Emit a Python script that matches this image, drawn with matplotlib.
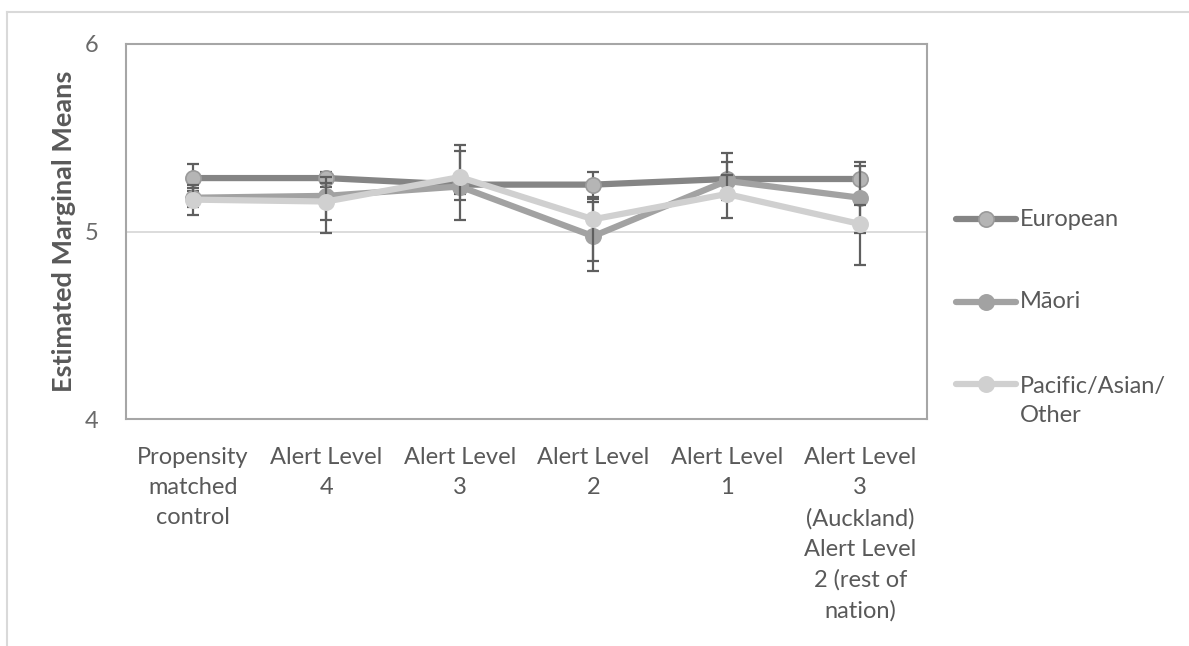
import matplotlib
matplotlib.use("Agg")
import matplotlib.pyplot as plt
from matplotlib.lines import Line2D
import numpy as np

categories = ["Propensity\nmatched\ncontrol", "Alert Level\n4", "Alert Level\n3",
              "Alert Level\n2", "Alert Level\n1",
              "Alert Level\n3\n(Auckland)\nAlert Level\n2 (rest of\nnation)"]
series_names = ["European", "Māori", "Pacific/Asian/\nOther"]

european = [5.285, 5.285, 5.25, 5.25, 5.28, 5.28]
european_lo = [0.07, 0.05, 0.05, 0.065, 0.09, 0.09]
european_hi = [0.075, 0.035, 0.05, 0.065, 0.09, 0.09]

maori = [5.18, 5.19, 5.24, 4.975, 5.27, 5.18]
maori_lo = [0.05, 0.13, 0.18, 0.185, 0.10, 0.19]
maori_hi = [0.07, 0.10, 0.19, 0.20, 0.15, 0.17]

pacific = [5.17, 5.16, 5.29, 5.065, 5.20, 5.04]
pacific_lo = [0.08, 0.17, 0.12, 0.225, 0.13, 0.22]
pacific_hi = [0.06, 0.10, 0.17, 0.095, 0.10, 0.10]

yticks = [4, 5, 6]

W, H = 1189, 646
fig = plt.figure(figsize=(W / 100, H / 100), dpi=100)
plt.rcParams['font.family'] = ['Lato', 'DejaVu Sans']
txt = "#595959"
FS = 17

ax = fig.add_axes([126 / W, 1 - 419 / H, (927 - 126) / W, (419 - 44) / H])
x = np.arange(len(categories))

line_cols = ["#858585", "#a2a2a2", "#d0d0d0"]
face_cols = ["#b5b5b5", "#a2a2a2", "#d0d0d0"]
edge_cols = ["#9a9a9a", "#a2a2a2", "#d0d0d0"]
data = [(european, european_lo, european_hi),
        (maori, maori_lo, maori_hi),
        (pacific, pacific_lo, pacific_hi)]

for i, (vals, lo, hi) in enumerate(data):
    ax.errorbar(x, vals, yerr=[lo, hi], fmt='none', ecolor="#5f5f5f",
                elinewidth=1.6, capsize=4.5, capthick=1.6, zorder=2 + i)
    ax.plot(x, vals, color=line_cols[i], lw=4.5, marker='o', ms=11,
            mfc=face_cols[i], mec=edge_cols[i], mew=1.2,
            solid_capstyle='round', zorder=3 + i, label=series_names[i])

ax.set_xlim(-0.5, len(categories) - 0.5)
ax.set_ylim(4, 6)
ax.set_yticks(yticks)
ax.set_yticklabels([str(v) for v in yticks], fontsize=FS, color="#6a6a6a")
ax.set_xticks(x)
ax.set_xticklabels(categories, fontsize=FS, color=txt, linespacing=1.55, va='top')
ax.tick_params(axis='y', length=0, pad=20)
ax.tick_params(axis='x', length=0, pad=20)
ax.axhline(5, color="#d9d9d9", lw=1.3, zorder=1)
for s in ax.spines.values():
    s.set_color("#a6a6a6")
    s.set_linewidth(1.5)

ax.set_ylabel("Estimated Marginal Means", fontsize=19.5, fontweight='bold', color=txt, labelpad=6)

# legend drawn beside the plot area (axes coordinates)
leg_x0, leg_x1, leg_tx = 1.036, 1.111, 1.1165
leg_y = [(419 - 219) / 375, (419 - 302) / 375, (419 - 384) / 375]
half_line = (FS * 100 / 72 * 0.32) / 375
for i, name in enumerate(series_names):
    ln = Line2D([leg_x0, (leg_x0 + leg_x1) / 2, leg_x1], [leg_y[i]] * 3,
                transform=ax.transAxes, clip_on=False, color=line_cols[i], lw=4.5,
                marker='o', ms=11, markevery=[1], mfc=face_cols[i], mec=edge_cols[i],
                mew=1.2, solid_capstyle='round')
    ax.add_line(ln)
    if '\n' in name:
        ax.text(leg_tx, leg_y[i] + half_line, name, transform=ax.transAxes, fontsize=FS,
                color=txt, va='top', ha='left', linespacing=1.45)
    else:
        ax.text(leg_tx, leg_y[i], name, transform=ax.transAxes, fontsize=FS,
                color=txt, va='center', ha='left')

# outer chart frame
fig.add_artist(Line2D([7 / W, 1], [1 - 12 / H, 1 - 12 / H], color="#d9d9d9", lw=1.5))
fig.add_artist(Line2D([7 / W, 7 / W], [0, 1 - 12 / H], color="#d9d9d9", lw=1.5))

fig.savefig("out.png", dpi=100)
